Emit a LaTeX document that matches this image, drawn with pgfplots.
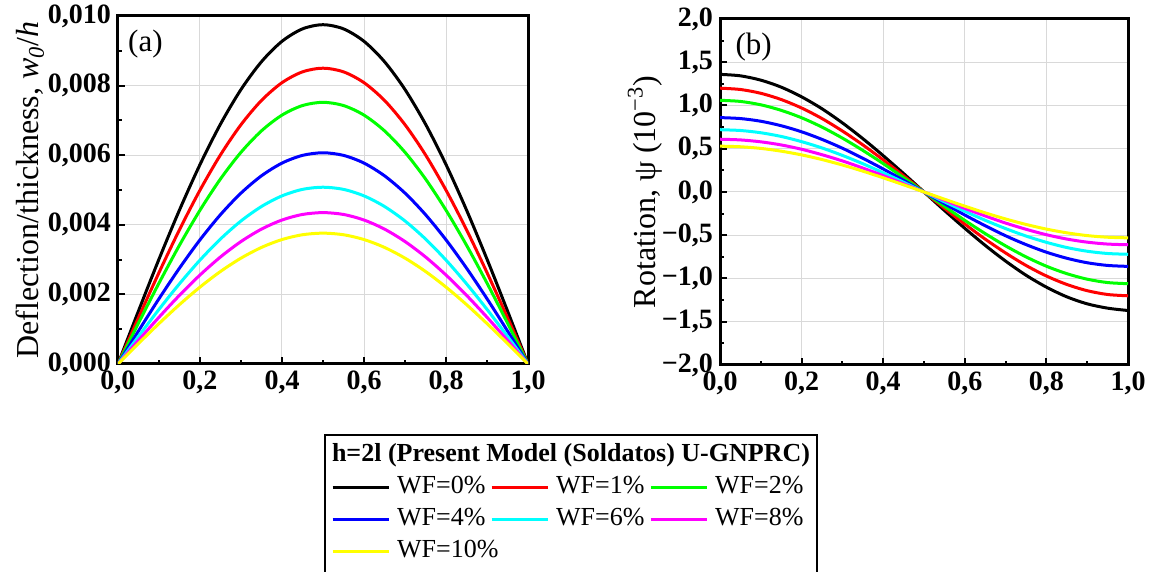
\documentclass[border=0pt]{standalone}
\usepackage{pgfplots}
\pgfplotsset{compat=1.18}
\usepackage{pgfplotstable}
\usepackage{fontspec}
\setmainfont{Liberation Serif}
\definecolor{cBlack}{RGB}{0,0,0}
\definecolor{cRed}{RGB}{255,0,0}
\definecolor{cGreen}{RGB}{0,255,0}
\definecolor{cBlue}{RGB}{0,0,255}
\definecolor{cCyan}{RGB}{0,255,255}
\definecolor{cMagenta}{RGB}{255,0,255}
\definecolor{cYellow}{RGB}{255,255,0}

\pgfplotstableread{
x a0 a1 a2 a4 a6 a8 a10
0.00 0 0 0 0 0 0 0
0.05 0.001525 0.001330 0.001176 0.000950 0.000795 0.000680 0.000588
0.10 0.003013 0.002627 0.002324 0.001876 0.001570 0.001344 0.001162
0.15 0.004426 0.003859 0.003414 0.002756 0.002306 0.001975 0.001707
0.20 0.005731 0.004996 0.004420 0.003568 0.002986 0.002557 0.002210
0.25 0.006894 0.006010 0.005318 0.004292 0.003592 0.003076 0.002659
0.30 0.007888 0.006877 0.006084 0.004911 0.004110 0.003519 0.003042
0.35 0.008687 0.007574 0.006700 0.005408 0.004526 0.003876 0.003350
0.40 0.009273 0.008084 0.007152 0.005773 0.004831 0.004137 0.003576
0.45 0.009630 0.008395 0.007427 0.005995 0.005018 0.004297 0.003714
0.50 0.009750 0.008500 0.007520 0.006070 0.005080 0.004350 0.003760
0.55 0.009630 0.008395 0.007427 0.005995 0.005018 0.004297 0.003714
0.60 0.009273 0.008084 0.007152 0.005773 0.004831 0.004137 0.003576
0.65 0.008687 0.007574 0.006700 0.005408 0.004526 0.003876 0.003350
0.70 0.007888 0.006877 0.006084 0.004911 0.004110 0.003519 0.003042
0.75 0.006894 0.006010 0.005318 0.004292 0.003592 0.003076 0.002659
0.80 0.005731 0.004996 0.004420 0.003568 0.002986 0.002557 0.002210
0.85 0.004426 0.003859 0.003414 0.002756 0.002306 0.001975 0.001707
0.90 0.003013 0.002627 0.002324 0.001876 0.001570 0.001344 0.001162
0.95 0.001525 0.001330 0.001176 0.000950 0.000795 0.000680 0.000588
1.00 0 0 0 0 0 0 0
}\defl

\pgfplotstableread{
x b0 b1 b2 b4 b6 b8 b10
0.00 1.360 1.200 1.060 0.860 0.720 0.610 0.530
0.05 1.343 1.185 1.047 0.849 0.711 0.602 0.523
0.10 1.293 1.141 1.008 0.818 0.685 0.580 0.504
0.15 1.212 1.069 0.944 0.766 0.642 0.544 0.472
0.20 1.100 0.971 0.858 0.696 0.582 0.494 0.429
0.25 0.962 0.849 0.750 0.608 0.509 0.431 0.375
0.30 0.799 0.705 0.623 0.506 0.423 0.359 0.312
0.35 0.617 0.545 0.481 0.390 0.327 0.277 0.241
0.40 0.420 0.371 0.328 0.266 0.222 0.189 0.164
0.45 0.213 0.188 0.166 0.135 0.113 0.095 0.083
0.50 0 0 0 0 0 0 0
0.55 -0.213 -0.188 -0.166 -0.135 -0.113 -0.095 -0.083
0.60 -0.420 -0.371 -0.328 -0.266 -0.222 -0.189 -0.164
0.65 -0.617 -0.545 -0.481 -0.390 -0.327 -0.277 -0.241
0.70 -0.799 -0.705 -0.623 -0.506 -0.423 -0.359 -0.312
0.75 -0.962 -0.849 -0.750 -0.608 -0.509 -0.431 -0.375
0.80 -1.100 -0.971 -0.858 -0.696 -0.582 -0.494 -0.429
0.85 -1.212 -1.069 -0.944 -0.766 -0.642 -0.544 -0.472
0.90 -1.293 -1.141 -1.008 -0.818 -0.685 -0.580 -0.504
0.95 -1.343 -1.185 -1.047 -0.849 -0.711 -0.602 -0.523
1.00 -1.370 -1.200 -1.060 -0.860 -0.720 -0.610 -0.530
}\rot

\pgfplotsset{
  panel/.style={
    scale only axis,
    anchor=south west,
    xmin=0, xmax=1,
    enlargelimits=false,
    scaled x ticks=false,
    scaled y ticks=false,
    axis line style={line width=1.5pt},
    tick align=inside,
    tick pos=left,
    major tick length=3.5pt,
    minor tick length=2pt,
    every tick/.style={black, line width=1pt},
    minor x tick num=1,
    minor y tick num=1,
    grid=major,
    major grid style={gray!30, line width=0.5pt},
    xtick={0,0.2,0.4,0.6,0.8,1},
    xticklabels={{0,0},{0,2},{0,4},{0,6},{0,8},{1,0}},
    ticklabel style={font=\bfseries\fontsize{14}{16}\selectfont},
    label style={font=\fontsize{16}{18}\selectfont},
    every axis plot/.append style={line width=1.5pt, no markers, smooth},
  }
}

\begin{document}
\begin{tikzpicture}
\useasboundingbox (0,0) rectangle (575.5pt,286pt);
\draw[line width=0.8pt] (162.5pt,68.5pt) rectangle (408.5pt,-5pt);
\node[font=\bfseries\fontsize{13}{15}\selectfont] at (285.5pt,58.5pt) {h=2l (Present Model (Soldatos) U-GNPRC)};

\begin{axis}[panel,
  at={(59pt,104pt)}, width=205pt, height=174pt,
  ymin=0, ymax=0.010,
  ytick={0,0.002,0.004,0.006,0.008,0.010},
  yticklabels={{0,000},{0,002},{0,004},{0,006},{0,008},{0,010}},
  ylabel={Deflection/thickness, \textit{w}\textsubscript{\textit{0}}/\textit{h}},
  ylabel style={at={(axis description cs:-0.2146,0.5)}, anchor=center},
  legend columns=3,
  legend cell align=left,
  legend image code/.code={\draw[#1] (0pt,0pt) -- (28pt,0pt);},
  legend style={at={(axis description cs:0.520,-0.3075)}, anchor=north west,
    draw=none, fill=none, inner sep=0pt, outer sep=0pt,
    font=\fontsize{13}{15}\selectfont,
    nodes={inner xsep=2pt, inner ysep=2pt, text height=9pt, text depth=3pt, anchor=west},
    /tikz/every odd column/.append style={column sep=1.5pt},
    /tikz/every even column/.append style={column sep=2pt}},
]
\addplot[cBlack] table[x=x,y=a0] {\defl}; \addlegendentry{\makebox[42.5pt][l]{WF=0\%}}
\addplot[cRed] table[x=x,y=a1] {\defl}; \addlegendentry{\makebox[42.5pt][l]{WF=1\%}}
\addplot[cGreen] table[x=x,y=a2] {\defl}; \addlegendentry{\makebox[42.5pt][l]{WF=2\%}}
\addplot[cBlue] table[x=x,y=a4] {\defl}; \addlegendentry{\makebox[42.5pt][l]{WF=4\%}}
\addplot[cCyan] table[x=x,y=a6] {\defl}; \addlegendentry{\makebox[42.5pt][l]{WF=6\%}}
\addplot[cMagenta] table[x=x,y=a8] {\defl}; \addlegendentry{\makebox[42.5pt][l]{WF=8\%}}
\addplot[cYellow] table[x=x,y=a10] {\defl}; \addlegendentry{\makebox[42.5pt][l]{WF=10\%}}
\node[anchor=north west, inner sep=0pt, font=\fontsize{15.5}{18}\selectfont] at (rel axis cs:0.024,0.962) {(a)};
\end{axis}

\begin{axis}[panel,
  at={(360pt,103.5pt)}, width=204pt, height=173pt,
  ymin=-2, ymax=2,
  ytick={-2,-1.5,-1,-0.5,0,0.5,1,1.5,2},
  yticklabels={{−2,0},{−1,5},{−1,0},{−0,5},{0,0},{0,5},{1,0},{1,5},{2,0}},
  ylabel={Rotation, ψ (10\textsuperscript{−3})},
  ylabel style={at={(axis description cs:-0.184,0.5)}, anchor=center},
]
\addplot[cBlack] table[x=x,y=b0] {\rot};
\addplot[cRed] table[x=x,y=b1] {\rot};
\addplot[cGreen] table[x=x,y=b2] {\rot};
\addplot[cBlue] table[x=x,y=b4] {\rot};
\addplot[cCyan] table[x=x,y=b6] {\rot};
\addplot[cMagenta] table[x=x,y=b8] {\rot};
\addplot[cYellow] table[x=x,y=b10] {\rot};
\node[anchor=north west, inner sep=0pt, font=\fontsize{15.5}{18}\selectfont] at (rel axis cs:0.037,0.962) {(b)};
\end{axis}
\end{tikzpicture}
\end{document}
